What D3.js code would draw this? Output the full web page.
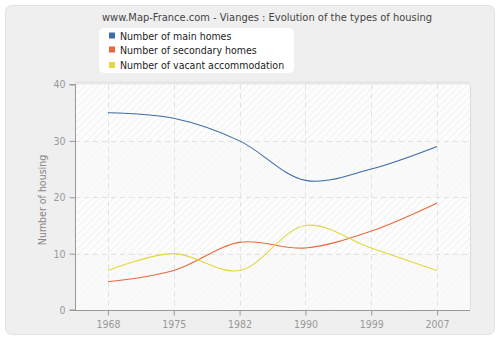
<!DOCTYPE html>
<html><head><meta charset="utf-8">
<script src="https://cdn.jsdelivr.net/npm/d3@7"></script>
<style>body{margin:0;background:#fff}svg{display:block}text{font-family:"DejaVu Sans Condensed","DejaVu Sans",Verdana,sans-serif;font-stretch:condensed}</style>
</head><body><svg id="c" width="500" height="340"></svg>
<script>
const years = ["1968","1975","1982","1990","1999","2007"];
const mainHomes = [35, 34, 30, 23, 25, 29];
const secondaryHomes = [5, 7, 12, 11, 14, 19];
const vacant = [7, 10, 7, 15, 11, 7];
const seriesNames = ["Number of main homes","Number of secondary homes","Number of vacant accommodation"];
const colors = ["#3d6ca6","#e8693d","#e3d63f"];
const yTicks = [0,10,20,30,40];
const title = "www.Map-France.com - Vianges : Evolution of the types of housing";
const yLabel = "Number of housing";

const svg = d3.select("#c");
svg.append("rect").attr("x",5.5).attr("y",5.5).attr("width",489).attr("height",329)
  .attr("rx",6).attr("fill","#efefef").attr("stroke","#e2e2e2");

const L=75, R=470, T=84.5, B=310;
const x = d3.scalePoint().domain(years).range([L,R]).padding(0.5);
const y = d3.scaleLinear().domain([0,40]).range([B,T]);

const defs = svg.append("defs");
const pat = defs.append("pattern").attr("id","hatch").attr("patternUnits","userSpaceOnUse")
  .attr("width",5).attr("height",5).attr("patternTransform","rotate(45)");
pat.append("rect").attr("width",5).attr("height",5).attr("fill","#fdfdfd");
pat.append("line").attr("x1",0).attr("y1",0).attr("x2",0).attr("y2",5).attr("stroke","#ececec").attr("stroke-width",1.2);
const pat2 = defs.append("pattern").attr("id","hatch2").attr("patternUnits","userSpaceOnUse")
  .attr("width",5).attr("height",5).attr("patternTransform","rotate(45)");
pat2.append("rect").attr("width",5).attr("height",5).attr("fill","#fafafa");
pat2.append("line").attr("x1",0).attr("y1",0).attr("x2",0).attr("y2",5).attr("stroke","#f2f2f2").attr("stroke-width",1);

svg.append("rect").attr("x",L).attr("y",T-3).attr("width",R-L).attr("height",3).attr("fill","#e6e6e6");
for(let i=0;i<4;i++){
  const v0=yTicks[i], v1=yTicks[i+1];
  svg.append("rect").attr("x",L).attr("y",y(v1)).attr("width",R-L).attr("height",y(v0)-y(v1))
    .attr("fill", i%2===1 ? "url(#hatch)" : "url(#hatch2)");
}
svg.append("line").attr("x1",R+0.5).attr("x2",R+0.5).attr("y1",T).attr("y2",B).attr("stroke","#dcdcdc");

const g = svg.append("g");
g.selectAll(".hg").data(yTicks.slice(1,4)).join("line")
  .attr("x1",L).attr("x2",R).attr("y1",d=>Math.round(y(d))+0.5).attr("y2",d=>Math.round(y(d))+0.5)
  .attr("stroke","#e2e2e2").attr("stroke-dasharray","5,4");
g.selectAll(".vg").data(years).join("line")
  .attr("x1",d=>Math.round(x(d))+0.5).attr("x2",d=>Math.round(x(d))+0.5).attr("y1",T).attr("y2",B)
  .attr("stroke","#e2e2e2").attr("stroke-dasharray","5,4");

const yAxis = svg.append("g").attr("transform",`translate(${L+0.5},0)`)
  .call(d3.axisLeft(y).tickValues(yTicks).tickSize(6).tickPadding(4));
const xAxis = svg.append("g").attr("transform",`translate(0,${B+0.5})`)
  .call(d3.axisBottom(x).tickSize(5).tickPadding(5));
[yAxis,xAxis].forEach(a=>{
  a.select(".domain").attr("stroke","#999");
  a.selectAll(".tick line").attr("stroke","#999");
  a.selectAll(".tick text").attr("fill","#999").style("font-size","10.5px").style("font-family",null);
});
yAxis.select(".domain").attr("d",`M-6,${y(40)}H0V${B}H-6`);
xAxis.select(".domain").attr("d",`M${L},0H${R}`);

const line = d3.line().x((d,i)=>x(years[i])).y(d=>y(d)).curve(d3.curveCatmullRom.alpha(0.5));
[mainHomes, secondaryHomes, vacant].forEach((s,k)=>{
  svg.append("path").attr("d",line(s)).attr("fill","none").attr("stroke",colors[k]).attr("stroke-width",1.1);
});

svg.append("text").attr("x",267).attr("y",21).attr("text-anchor","middle").attr("fill","#444")
  .style("font-size","11px").text(title);
svg.append("text").attr("transform","translate(46,200) rotate(-90)").attr("text-anchor","middle")
  .attr("fill","#888").style("font-size","10.5px").text(yLabel);

svg.append("rect").attr("x",99).attr("y",28).attr("width",195).attr("height",45).attr("rx",5).attr("fill","#fff");
const ly=[35.5,49.5,65];
seriesNames.forEach((n,k)=>{
  svg.append("rect").attr("x",109).attr("y",ly[k]-3).attr("width",6).attr("height",6).attr("fill",colors[k]);
  svg.append("text").attr("x",120).attr("y",ly[k]+4).attr("fill","#222").style("font-size","10.5px").text(n);
});
</script></body></html>
